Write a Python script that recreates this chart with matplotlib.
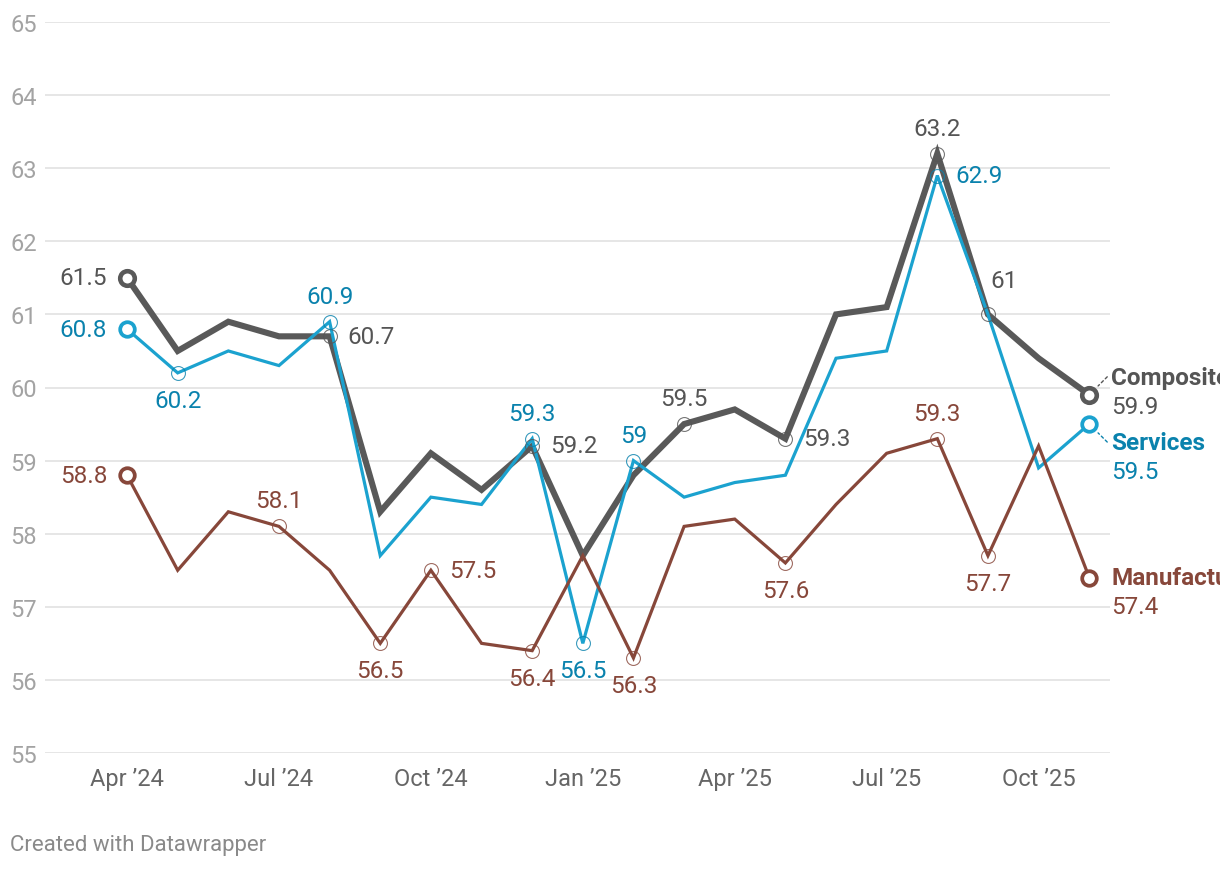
import matplotlib.pyplot as plt

plt.rcParams['font.family'] = ['Roboto', 'DejaVu Sans']

months = ['Apr 2024', 'May 2024', 'Jun 2024', 'Jul 2024', 'Aug 2024', 'Sep 2024',
          'Oct 2024', 'Nov 2024', 'Dec 2024', 'Jan 2025', 'Feb 2025', 'Mar 2025',
          'Apr 2025', 'May 2025', 'Jun 2025', 'Jul 2025', 'Aug 2025', 'Sep 2025',
          'Oct 2025', 'Nov 2025']
composite = [61.5, 60.5, 60.9, 60.7, 60.7, 58.3, 59.1, 58.6, 59.2, 57.7,
             58.8, 59.5, 59.7, 59.3, 61.0, 61.1, 63.2, 61.0, 60.4, 59.9]
services = [60.8, 60.2, 60.5, 60.3, 60.9, 57.7, 58.5, 58.4, 59.3, 56.5,
            59.0, 58.5, 58.7, 58.8, 60.4, 60.5, 62.9, 61.0, 58.9, 59.5]
manufacturing = [58.8, 57.5, 58.3, 58.1, 57.5, 56.5, 57.5, 56.5, 56.4, 57.7,
                 56.3, 58.1, 58.2, 57.6, 58.4, 59.1, 59.3, 57.7, 59.2, 57.4]

tick_idx = [0, 3, 6, 9, 12, 15, 18]
tick_labels = ['Apr \u201924', 'Jul \u201924', 'Oct \u201924', 'Jan \u201925',
               'Apr \u201925', 'Jul \u201925', 'Oct \u201925']
y_ticks = list(range(55, 66))

# labelled points: index -> placement
comp_labels = {4: 'right', 8: 'right', 11: 'above', 13: 'right',
               16: 'above', 17: 'aboveright'}
serv_labels = {1: 'below', 4: 'above', 8: 'above', 9: 'below',
               10: 'above', 16: 'right'}
manu_labels = {3: 'above', 5: 'below', 6: 'right', 8: 'below',
               10: 'below', 13: 'below', 16: 'above', 17: 'below'}

# name, values, line colour, text colour, width, labels, end label shift, leader
series = [
    ('Composite', composite, '#595959', '#555555', 4.4, comp_labels, 17, 1),
    ('Services', services, '#1ba2cf', '#0a82ad', 2.3, serv_labels, -18, -1),
    ('Manufacturing', manufacturing, '#87473a', '#87473a', 2.3, manu_labels, 0, 0),
]

offsets = {
    'left': ((-20, 0), 'right', 'center'),
    'right': ((18, 0), 'left', 'center'),
    'above': ((0, 14), 'center', 'bottom'),
    'below': ((0, -16), 'center', 'top'),
    'aboveright': ((2, 22), 'left', 'bottom'),
}

fig = plt.figure(figsize=(12.2, 8.7), dpi=100)
ax = fig.add_axes([45 / 1220, 1 - 754 / 870, (1110 - 45) / 1220, (754 - 23) / 870])

x = list(range(len(months)))
fs = 17.5

for name, vals, col, tcol, lw, labs, shift, lead in series:
    ax.plot(x, vals, color=col, lw=lw, solid_joinstyle='miter', zorder=3)
    for i, pos in labs.items():
        ax.plot(x[i], vals[i], 'o', ms=10, mfc='none', mec=tcol, mew=0.8,
                alpha=0.8, zorder=4)
        (dx, dy), ha, va = offsets[pos]
        ax.annotate(f'{vals[i]:g}', (x[i], vals[i]), xytext=(dx, dy),
                    textcoords='offset pixels', ha=ha, va=va, fontsize=fs,
                    color=tcol, zorder=5)
    # first and last points
    last = len(vals) - 1
    for i in (0, last):
        ax.plot(x[i], vals[i], 'o', ms=10.5, mfc='white', mec=col,
                mew=3.3 if name == 'Composite' else 2.7, zorder=6)
    (dx, dy), ha, va = offsets['left']
    ax.annotate(f'{vals[0]:g}', (x[0], vals[0]), xytext=(dx, dy),
                textcoords='offset pixels', ha=ha, va=va, fontsize=fs, color=tcol)
    # end labels
    ax.annotate(name, (x[last], vals[last]), xytext=(22, shift), textcoords='offset pixels',
                ha='left', va='center', fontsize=fs, fontweight='bold', color=tcol,
                annotation_clip=False)
    ax.annotate(f'{vals[last]:g}', (x[last], vals[last]), xytext=(22, shift - 29),
                textcoords='offset pixels', ha='left', va='center', fontsize=fs,
                color=tcol, annotation_clip=False)
    if lead:
        ax.annotate('', (x[last], vals[last]), xytext=(18, 18 * lead),
                    textcoords='offset pixels',
                    arrowprops=dict(arrowstyle='-', color=tcol, lw=1, ls=(0, (2, 2)),
                                    shrinkA=0, shrinkB=9))

ax.set_xlim(-1.62, 19.41)
ax.set_ylim(55, 65)
ax.set_yticks(y_ticks)
ax.set_xticks(tick_idx)
ax.set_xticklabels(tick_labels)
ax.grid(axis='y', color='#e2e2e2', lw=1.2, zorder=0)
ax.set_axisbelow(True)
for s in ax.spines.values():
    s.set_visible(False)
ax.tick_params(axis='y', length=0, pad=25, labelsize=17, labelcolor='#a3a3a3')
ax.tick_params(axis='x', length=0, pad=10, labelsize=17, labelcolor='#666666')
for t in ax.get_yticklabels():
    t.set_horizontalalignment('left')

fig.text(10 / 1220, 1 - 846 / 870, 'Created with Datawrapper', fontsize=16,
         color='#8a8a8a', ha='left', va='center')

fig.savefig('out.png', dpi=100)
